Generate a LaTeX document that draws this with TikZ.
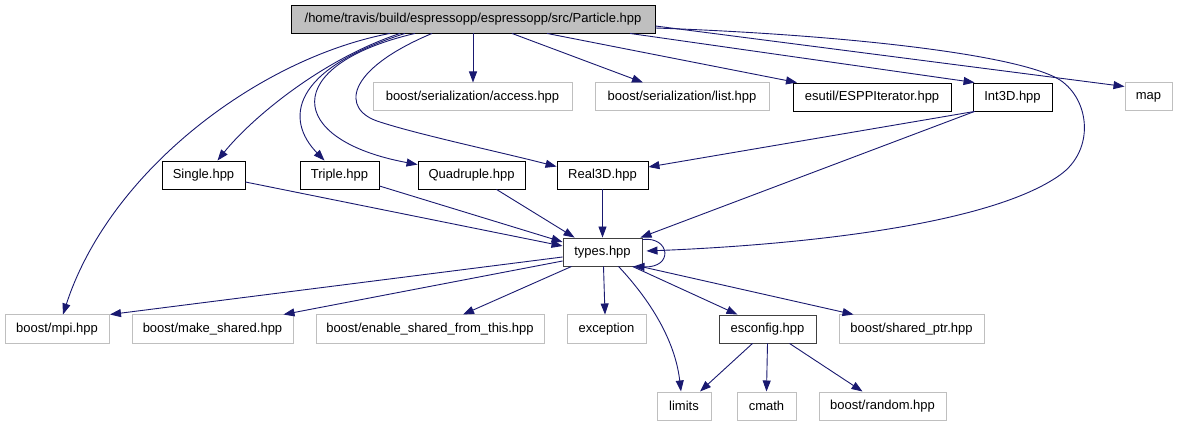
\documentclass[tikz,border=0pt]{standalone}
\usepackage{fontspec}
\setmainfont{Liberation Sans}
\usetikzlibrary{arrows.meta}
\definecolor{edge}{HTML}{191970}
\definecolor{grayfill}{HTML}{BFBFBF}
\definecolor{sysline}{HTML}{BFBFBF}
\definecolor{darkline}{HTML}{404040}

\begin{document}
\begin{tikzpicture}[x=1pt,y=-1pt,
  file/.style={draw=black,line width=0.9pt,fill=white,inner sep=0pt,minimum height=28pt,font=\fontsize{13}{15}\selectfont},
  sys/.style={file,draw=sysline,line width=1pt},
  dep/.style={draw=edge,line width=0.9pt,-{Triangle[length=11pt,width=8pt]}}]
\useasboundingbox[fill=white] (0,0) rectangle (1177,427);
% top row
\node[file,fill=grayfill,minimum width=364pt] (part) at (473,19){/home/travis/build/espressopp/espressopp/src/Particle.hpp};
\node[sys,minimum width=199pt] (access) at (472.5,97){boost/serialization/access.hpp};
\node[sys,minimum width=174pt] (list) at (682,97){boost/serialization/list.hpp};
\node[file,minimum width=158pt] (esppit) at (872,97){esutil/ESPPIterator.hpp};
\node[file,minimum width=79pt] (intd) at (1012.5,97){Int3D.hpp};
\node[sys,minimum width=47pt] (map) at (1148.5,97){map};
% second row
\node[file,minimum width=83pt] (single) at (203.5,175){Single.hpp};
\node[file,minimum width=79pt] (triple) at (339.5,175){Triple.hpp};
\node[file,minimum width=107pt] (quad) at (471.5,175){Quadruple.hpp};
\node[file,minimum width=91pt] (real) at (602.5,175){Real3D.hpp};
\node[file,draw=darkline,minimum width=79pt] (types) at (602.5,252){types.hpp};
% lower rows
\node[sys,minimum width=104pt] (mpi) at (57,329){boost/mpi.hpp};
\node[sys,minimum width=161pt] (mkshared) at (212.5,329){boost/make\_shared.hpp};
\node[sys,minimum width=228pt] (enshared) at (430,329){boost/enable\_shared\_from\_this.hpp};
\node[sys,minimum width=79pt] (exception) at (606.5,329){exception};
\node[file,draw=darkline,minimum width=97pt] (esconfig) at (767.5,329){esconfig.hpp};
\node[sys,minimum width=145pt] (shptr) at (911.5,329){boost/shared\_ptr.hpp};
\node[sys,minimum width=54pt] (limits) at (684,406){limits};
\node[sys,minimum width=59pt] (cmath) at (766.5,406){cmath};
\node[sys,minimum width=127pt] (random) at (882.5,406){boost/random.hpp};
% Particle.hpp includes
\draw[dep] ([xshift=-83pt]part.south) .. controls (260,58) and (110,170) .. ([xshift=6pt]mpi.north);
\draw[dep] ([xshift=-73pt]part.south) .. controls (320,60) and (250,120) .. ([xshift=14pt]single.north);
\draw[dep] ([xshift=-68pt]part.south) .. controls (290,70) and (285,120) .. ([xshift=-15pt]triple.north);
\draw[dep] ([xshift=-58pt]part.south) .. controls (280,65) and (285,140) .. ([yshift=-4pt]quad.north west);
\draw[dep] ([xshift=-41pt]part.south) .. controls (345,70) and (340,110) .. (380,122) .. controls (420,135) and (500,152) .. ([yshift=-6pt]real.north west);
\draw[dep] (part.south) -- (part.south |- access.north);
\draw[dep] ([xshift=39pt]part.south) -- ([xshift=-39pt]list.north);
\draw[dep] ([xshift=74pt]part.south) -- ([xshift=-75pt]esppit.north);
\draw[dep] ([xshift=157pt]part.south) -- ([xshift=2pt]intd.north west);
\draw[dep] ([yshift=-7pt]part.east) -- ([yshift=-4pt]map.north west);
\draw[dep] ([yshift=-9pt]part.east) .. controls (850,35) and (1020,55) .. (1060,80) .. controls (1090,100) and (1095,150) .. (1060,175) .. controls (990,225) and (800,245) .. ([xshift=4pt,yshift=1pt]types.east);
% into types.hpp
\draw[dep] ([yshift=-7pt]single.east) -- ([yshift=6pt]types.west);
\draw[dep] ([yshift=-11pt]triple.east) -- ([yshift=10pt]types.west);
\draw[dep] ([xshift=25pt]quad.south) -- ([xshift=12pt]types.north west);
\draw[dep] (real.south) -- (types.north);
\draw[dep] ([xshift=2pt]intd.south west) -- ([yshift=8pt]real.east);
\draw[dep] ([xshift=2pt]intd.south west) -- ([xshift=-2pt]types.north east);
\draw[dep] ([yshift=-2pt]types.north east) .. controls (670,236) and (674,268) .. ([xshift=-9pt]types.south east);
% types.hpp includes
\draw[dep] ([yshift=-5pt]types.west) -- ([xshift=53pt]mpi.north);
\draw[dep] ([yshift=-9pt]types.west) -- ([xshift=71pt]mkshared.north);
\draw[dep] ([xshift=9pt]types.south west) -- ([xshift=33pt]enshared.north);
\draw[dep] ([xshift=1pt]types.south) -- ([xshift=-1.5pt]exception.north);
\draw[dep] ([xshift=16pt]types.south) .. controls (650,300) and (675,340) .. ([xshift=-3pt]limits.north);
\draw[dep] ([xshift=30pt]types.south) -- ([xshift=-30pt]esconfig.north);
\draw[dep] ([xshift=-2pt]types.south east) -- ([xshift=-58pt]shptr.north);
% esconfig.hpp includes
\draw[dep] ([xshift=-15pt]esconfig.south) -- ([xshift=16pt]limits.north);
\draw[dep] (esconfig.south) -- (cmath.north);
\draw[dep] ([xshift=22pt]esconfig.south) -- ([xshift=-20pt]random.north);
\end{tikzpicture}
\end{document}
